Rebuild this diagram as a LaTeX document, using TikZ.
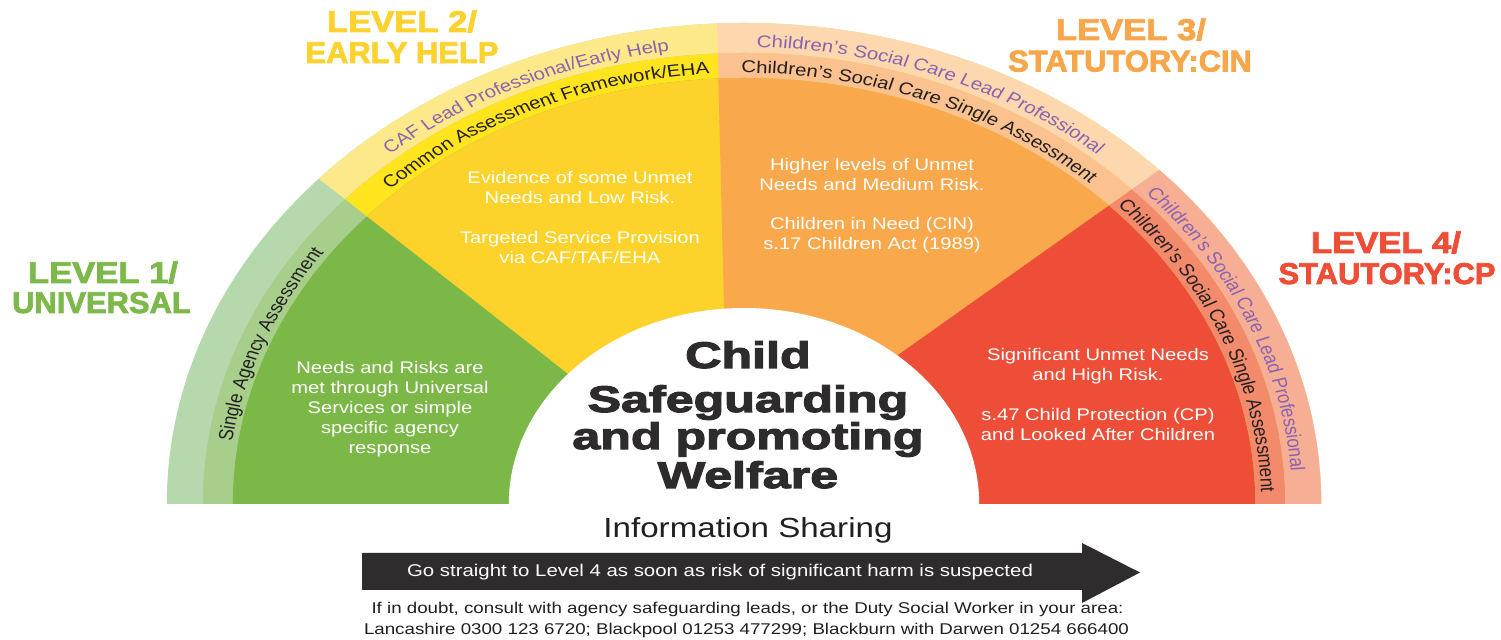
\documentclass[tikz,border=0pt]{standalone}
\usepackage{fontspec}
\setmainfont{Liberation Sans}
\newfontfamily\heavyfont{Liberation Sans}[FakeStretch=1.13,BoldFeatures={FakeBold=3}]
\newfontfamily\levelfont{Liberation Sans}[FakeStretch=1.03,BoldFeatures={FakeBold=2.5}]
\usetikzlibrary{decorations.text}

\definecolor{gL}{HTML}{B5D9AD}
\definecolor{gM}{HTML}{A7CF8B}
\definecolor{gF}{HTML}{7CB848}
\definecolor{yL}{HTML}{FEE98A}
\definecolor{yM}{HTML}{FFE41E}
\definecolor{yF}{HTML}{FDD22B}
\definecolor{oL}{HTML}{FDD8AF}
\definecolor{oM}{HTML}{FBC290}
\definecolor{oF}{HTML}{F9A84C}
\definecolor{rL}{HTML}{F6AE94}
\definecolor{rM}{HTML}{F28A6B}
\definecolor{rF}{HTML}{EE4E37}
\definecolor{purp}{HTML}{8A63B0}
\definecolor{ink}{HTML}{231F20}
\definecolor{titleink}{HTML}{2D2B2C}
\definecolor{arrowc}{HTML}{2F2C2D}
\definecolor{lvA}{HTML}{7DB84A}
\definecolor{lvB}{HTML}{FDD12E}
\definecolor{lvC}{HTML}{F8A64A}
\definecolor{lvD}{HTML}{EE4D36}

\newcommand\curvefont{\fontsize{8.5}{10}\selectfont}
% one ring layer: radius, green, yellow, orange, red
\newcommand\bandlayer[5]{%
  \begin{scope}
    \clip (-#1,0) arc[start angle=180, end angle=0, radius=#1] -- cycle;
    \fill[#2] (-700,0) rectangle (700,700);
    \fill[#3] (-8.1,0) -- (-753,700) -- (900,700) -- (900,0) -- cycle;
    \fill[#4] (-12.7,0) -- (-24.9,600) -- (900,600) -- (900,0) -- cycle;
    \fill[#5] (-47,0) -- (1012,900) -- (1200,900) -- (1200,0) -- cycle;
  \end{scope}}
\newcommand\curvetext[4]{\path[decorate, decoration={text along path, text align=center, text={|\curvefont\color{#1}|#4}}] (#2+40:#3) arc[start angle=#2+40, end angle=#2-40, radius=#3];}

\tikzset{
  bodytext/.style={text=white, align=center, inner sep=0pt, font=\fontsize{8.4}{10}\selectfont},
  titletext/.style={text=titleink, inner sep=0pt, anchor=base, font=\heavyfont\bfseries\fontsize{18.5}{20}\selectfont},
  leveltext/.style={inner sep=0pt, anchor=base, font=\levelfont\bfseries\fontsize{15}{15}\selectfont},
  levelhead/.style={leveltext, xscale=1.12},
  notetext/.style={text=ink, inner sep=0pt, anchor=base, xscale=1.2, font=\fontsize{7.8}{10}\selectfont}
}

\begin{document}
\begin{tikzpicture}[x=0.5pt,y=-0.5pt]
\useasboundingbox (0,0) rectangle (1501,640);
\fill[white] (0,0) rectangle (1501,640);

\begin{scope}[x=0.5pt,y=0.5pt,transform canvas={shift={(372pt,-252pt)},xscale=1.2}]
  \bandlayer{481}{gL}{yL}{oL}{rL}
  \bandlayer{451}{gM}{yM}{oM}{rM}
  \bandlayer{426}{gF}{yF}{oF}{rF}
  % white centre
  \fill[white] (-196,0) arc[start angle=180, end angle=0, radius=196] -- cycle;

  % curved band texts
  \curvetext{ink}{158}{431}{Single Agency Assessment}
  \curvetext{purp}{114}{457}{CAF Lead Professional/Early Help}
  \curvetext{ink}{113.5}{431}{Common Assessment Framework/EHA}
  \curvetext{purp}{69.3}{457}{Children’s Social Care Lead Professional}
  \curvetext{ink}{69.2}{431}{Children’s Social Care Single Assessment}
  \curvetext{purp}{23.5}{457}{Children’s Social Care Lead Professional}
  \curvetext{ink}{22.7}{431}{Children’s Social Care Single Assessment}

  % sector texts
  \node[bodytext] (green) at (-295,95) {Needs and Risks are\\met through Universal\\Services or simple\\specific agency\\response};
  \node[bodytext] (yellow) at (-136.7,286) {Evidence of some Unmet\\Needs and Low Risk.\\[10pt]Targeted Service Provision\\via CAF/TAF/EHA};
  \node[bodytext] (orange) at (106.7,298) {Higher levels of Unmet\\Needs and Medium Risk.\\[9.5pt]Children in Need (CIN)\\s.17 Children Act (1989)};
  \node[bodytext] (red) at (295,109.5) {Significant Unmet Needs\\and High Risk.\\[10pt]s.47 Child Protection (CP)\\and Looked After Children};

  % title
  \node[titletext] (t1) at (3.3,136) {Child};
  \node[titletext] (t2) at (3.3,92) {Safeguarding};
  \node[titletext] (t3) at (3.3,55) {and promoting};
  \node[titletext] (t4) at (3.3,16) {Welfare};
\end{scope}

% level labels
\node[levelhead, text=lvA] (l1a) at (103,283) {LEVEL 1/};
\node[leveltext, text=lvA] (l1b) at (101.5,313) {UNIVERSAL};
\node[levelhead, text=lvB] (l2a) at (402,32) {LEVEL 2/};
\node[leveltext, text=lvB] (l2b) at (402,63) {EARLY HELP};
\node[levelhead, text=lvC] (l3a) at (1131,40) {LEVEL 3/};
\node[leveltext, text=lvC] (l3b) at (1130,71.5) {STATUTORY:CIN};
\node[levelhead, text=lvD] (l4a) at (1386,253) {LEVEL 4/};
\node[leveltext, text=lvD] (l4b) at (1387,284) {STAUTORY:CP};

% information sharing arrow
\node[text=ink, inner sep=0pt, xscale=1.2, font=\fontsize{13.8}{14}\selectfont] (info) at (748,530) {Information Sharing};
\fill[arrowc] (362,553) -- (1082,553) -- (1082,543) -- (1140,572.5) -- (1082,603) -- (1082,590) -- (362,590) -- cycle;
\node[text=white, inner sep=0pt, xscale=1.2, font=\fontsize{8.5}{10}\selectfont] (go) at (720,572) {Go straight to Level 4 as soon as risk of significant harm is suspected};

% notes
\node[notetext] (n1) at (747.5,614) {If in doubt, consult with agency safeguarding leads, or the Duty Social Worker in your area:};
\node[notetext] (n2) at (746.5,635) {Lancashire 0300 123 6720; Blackpool 01253 477299; Blackburn with Darwen 01254 666400};
\end{tikzpicture}
\end{document}
